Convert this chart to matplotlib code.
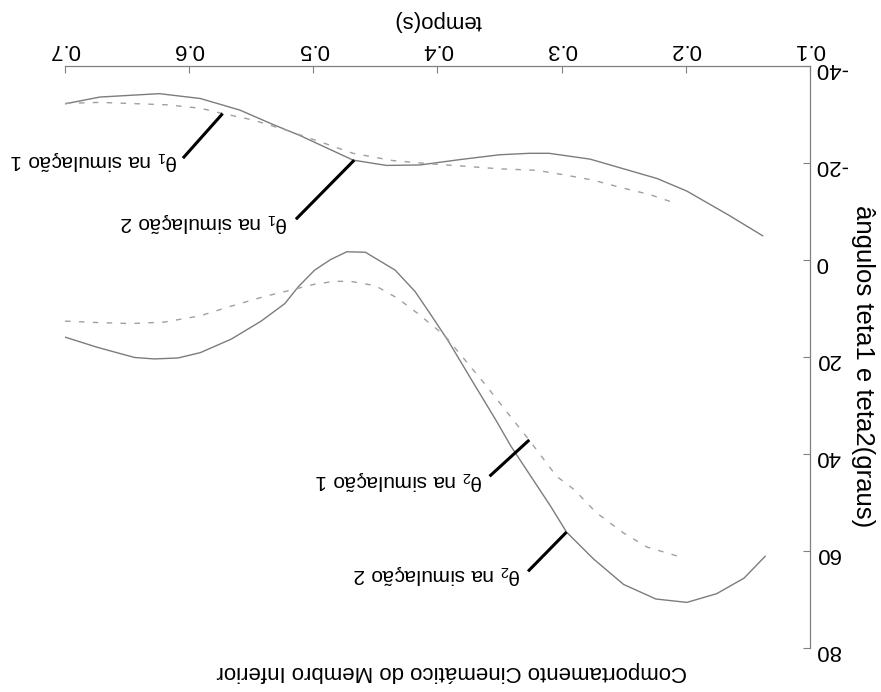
import matplotlib
matplotlib.use("Agg")
import matplotlib.pyplot as plt

plt.rcParams['font.family'] = ['Liberation Sans', 'DejaVu Sans']
plt.rcParams['mathtext.fontset'] = 'custom'
plt.rcParams['mathtext.rm'] = 'Liberation Sans'
plt.rcParams['mathtext.it'] = 'Liberation Sans:italic'

# theta1, simulation 2 (solid)
t_th1_sim2 = [0.700, 0.672, 0.624, 0.591, 0.559, 0.533, 0.511, 0.484, 0.468, 0.441,
              0.414, 0.382, 0.350, 0.326, 0.310, 0.277, 0.223, 0.199, 0.165, 0.138]
th1_sim2 = [-32.2, -33.6, -34.3, -33.3, -30.9, -28.0, -25.7, -22.5, -20.6, -19.5,
            -19.6, -20.7, -21.7, -22.0, -22.0, -20.8, -16.8, -14.2, -9.2, -5.0]

# theta1, simulation 1 (dashed)
t_th1_sim1 = [0.700, 0.672, 0.618, 0.591, 0.573, 0.549, 0.521, 0.497, 0.468, 0.436,
              0.404, 0.376, 0.350, 0.320, 0.299, 0.275, 0.253, 0.229, 0.207]
th1_sim1 = [-32.3, -32.5, -32.0, -31.3, -30.2, -28.9, -26.7, -24.6, -22.0, -20.5,
            -19.8, -19.3, -18.8, -18.5, -17.6, -16.5, -15.0, -13.5, -11.6]

# theta2, simulation 2 (solid)
t_th2_sim2 = [0.700, 0.674, 0.644, 0.628, 0.609, 0.591, 0.566, 0.542, 0.523, 0.512,
              0.499, 0.486, 0.473, 0.458, 0.434, 0.418, 0.405, 0.391, 0.373, 0.352,
              0.341, 0.325, 0.309, 0.296, 0.274, 0.250, 0.224, 0.199, 0.175, 0.153, 0.136]
th2_sim2 = [15.9, 18.0, 20.1, 20.4, 20.2, 19.1, 16.3, 12.6, 9.0, 5.5,
            2.1, -0.1, -1.7, -1.6, 2.1, 6.5, 11.4, 16.8, 24.5, 33.4,
            38.3, 44.5, 50.7, 56.1, 61.7, 66.9, 69.9, 70.6, 68.8, 65.6, 61.1]

# theta2, simulation 1 (dashed)
t_th2_sim1 = [0.700, 0.674, 0.647, 0.620, 0.591, 0.566, 0.539, 0.518, 0.499, 0.483,
              0.470, 0.450, 0.432, 0.416, 0.394, 0.362, 0.346, 0.325, 0.304, 0.290,
              0.272, 0.250, 0.231, 0.206]
th2_sim1 = [12.6, 12.9, 13.1, 12.8, 11.5, 9.5, 7.5, 6.2, 5.0, 4.4,
            4.4, 5.3, 7.9, 11.0, 15.6, 25.5, 30.7, 37.5, 44.6, 47.3,
            52.1, 56.3, 59.2, 61.1]

x_ticks = [0.1, 0.2, 0.3, 0.4, 0.5, 0.6, 0.7]
y_ticks = [-40, -20, 0, 20, 40, 60, 80]

# callouts: label, point on the curve, outer end of the leader, label anchor
callout_labels = [r"θ$_1$ na simulação 1", r"θ$_1$ na simulação 2",
                  r"θ$_2$ na simulação 1", r"θ$_2$ na simulação 2"]
callout_tip = [(0.573, -30.2), (0.467, -20.6), (0.326, 37.1), (0.296, 56.1)]
callout_end = [(0.605, -21.0), (0.514, -8.4), (0.358, 44.6), (0.327, 64.2)]
callout_text = [(0.609, -20.6), (0.520, -7.8), (0.363, 45.4), (0.333, 64.8)]

title = "Comportamento Cinemático do Membro Inferior"
x_label = "tempo(s)"
y_label = "ângulos teta1 e teta2(graus)"

fig = plt.figure(figsize=(8.81, 6.92), dpi=100)
ax = fig.add_axes([0.0738, 0.0636, 0.9192 - 0.0738, 0.9046 - 0.0636])

curve_color = "#7c7c7c"
dash_color = "#a0a0a0"
ax.plot(t_th1_sim2, th1_sim2, color=curve_color, lw=1.0)
ax.plot(t_th1_sim1, th1_sim1, color=dash_color, lw=1.0, ls=(0, (4, 6)))
ax.plot(t_th2_sim2, th2_sim2, color=curve_color, lw=1.0)
ax.plot(t_th2_sim1, th2_sim1, color=dash_color, lw=1.0, ls=(0, (4, 6)))

# the whole page is turned upside down
ax.set_xlim(0.7, 0.1)
ax.set_ylim(80, -40)

ax.xaxis.tick_top()
ax.xaxis.set_label_position("top")
ax.yaxis.tick_right()
ax.yaxis.set_label_position("right")
ax.set_xticks(x_ticks)
ax.set_xticklabels([f"{v:.1f}" for v in x_ticks], rotation=180)
ax.set_yticks(y_ticks)
ax.set_yticklabels([str(v) for v in y_ticks], rotation=180)
ax.tick_params(axis="both", direction="in", length=5, width=0.8, color="#808080",
               labelsize=16, pad=4)

for side in ("bottom", "left"):
    ax.spines[side].set_visible(False)
for side in ("top", "right"):
    ax.spines[side].set_color("#808080")
    ax.spines[side].set_linewidth(0.9)

ax.set_xlabel(x_label, fontsize=16, rotation=180, labelpad=10)
ax.set_ylabel(y_label, fontsize=18.5, rotation=-90, va="center")
ax.yaxis.set_label_coords(1.072, 0.485)

fig.text(0.513, 0.03, title, fontsize=16, rotation=180, ha="center", va="center")

for lab, tip, end, pos in zip(callout_labels, callout_tip, callout_end, callout_text):
    ax.plot([tip[0], end[0]], [tip[1], end[1]], color="black", lw=2.2,
            solid_capstyle="butt")
    ax.text(pos[0], pos[1], lab, rotation=180, fontsize=15,
            ha="right", va="center")

fig.savefig("out.png", dpi=100)
